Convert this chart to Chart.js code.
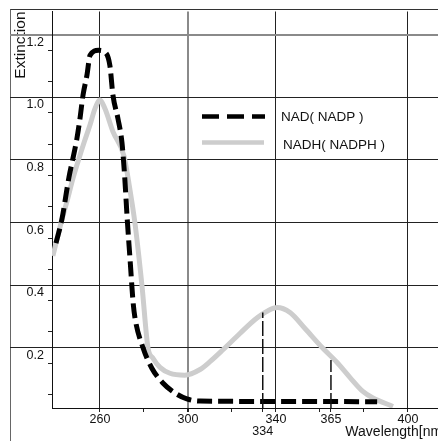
<!DOCTYPE html>
<html>
<head>
<meta charset="utf-8">
<script src="https://cdn.jsdelivr.net/npm/chart.js@4/dist/chart.umd.min.js"></script>
<style>
  html, body { margin: 0; padding: 0; background: #fff; overflow: hidden; }
  #wrap { position: relative; width: 438px; height: 441px; overflow: hidden; }
  #frame { position: absolute; left: 10px; top: 9px; width: 440px; height: 440px;
           border-left: 1px solid #666; border-top: 1px solid #333; }
  canvas { position: absolute; left: 0; top: 0; }
</style>
</head>
<body>
<div id="wrap">
  <div id="frame"></div>
  <canvas id="chart" width="446" height="441"></canvas>
</div>
<script>
// NAD(P), oxidised form
const nadWavelength = [240.0, 242.7, 245.9, 247.7, 249.5, 250.9, 252.3, 254.1, 255.5, 259.3,
  262.3, 264.5, 265.9, 268.2, 270.0, 271.2, 272.4, 273.7, 275.0, 275.9, 279.5, 283.6, 288.6,
  294.1, 299.5, 305.5, 340.0, 386.0]
const nadExtinction = [0.584, 0.660, 0.794, 0.854, 0.917, 0.981, 1.057, 1.121, 1.184, 1.200,
  1.194, 1.152, 1.057, 0.981, 0.905, 0.800, 0.660, 0.530, 0.400, 0.346, 0.251, 0.184, 0.137,
  0.105, 0.086, 0.079, 0.078, 0.077]

// NADH(P), reduced form
const nadhWavelength = [238.6, 242.3, 245.0, 247.7, 250.0, 253.0, 255.5, 257.7, 260.0, 262.3,
  265.9, 270.9, 273.5, 275.9, 279.1, 281.8, 284.1, 287.3, 291.8, 298.6, 305.5, 310.0, 315.9,
  323.6, 330.5, 336.4, 340.5, 346.4, 353.2, 360.9, 367.7, 373.6, 379.5, 384.1, 393.2]
const nadhExtinction = [0.543, 0.648, 0.717, 0.790, 0.844, 0.910, 0.962, 1.013, 1.041, 1.013,
  0.940, 0.863, 0.760, 0.648, 0.448, 0.251, 0.216, 0.187, 0.168, 0.162, 0.180, 0.205, 0.243,
  0.295, 0.340, 0.368, 0.378, 0.362, 0.311, 0.251, 0.203, 0.155, 0.110, 0.089, 0.062]

// dashed drop lines at the measuring wavelengths
const markerWavelength = [334, 365]
const markerTop = [0.362, 0.21]

// axes
const xMin = 238.2
const xMax = 417.3
const yMin = 0.057
const yMax = 1.324
const xTickValues = [260, 280, 300, 320, 334, 340, 360, 365, 380, 400]
const xTickLabels = { 260: '260', 300: '300', 334: ['', '334'], 340: '340', 365: '365', 400: '400' }
const yTickValues = [0.1, 0.15, 0.2, 0.25, 0.3, 0.35, 0.4, 0.45, 0.5, 0.55, 0.6, 0.65, 0.7,
  0.75, 0.8, 0.85, 0.9, 0.95, 1.0, 1.05, 1.1, 1.15, 1.2, 1.25]
const yTickLabels = ['0.2', '0.4', '0.6', '0.8', '1.0', '1.2']

// the printed table grid behind the chart
const tableCols = [260, 300, 340, 400]
const tableRows = [0.25, 0.45, 0.65, 0.85, 1.05, 1.25]

Chart.defaults.font.family = '"Liberation Sans", Arial, sans-serif'
Chart.defaults.color = '#111'

const toPoints = (xs, ys) => xs.map((x, i) => ({ x: x, y: ys[i] }))

const insideLegend = {
  id: 'insideLegend',
  afterDatasetsDraw(chart) {
    const { ctx, chartArea } = chart
    const left = chartArea.left + 150
    const top = chartArea.top + 105
    ctx.save()
    ctx.font = '13.5px "Liberation Sans", Arial, sans-serif'
    ctx.textBaseline = 'middle'
    ctx.fillStyle = '#111'
    chart.data.datasets.slice(0, 2).forEach((ds, i) => {
      const y = top + i * 26
      const dash = ds.borderDash || []
      const len = dash.length ? dash[0] * 3 + dash[1] * 2 : 62
      ctx.beginPath()
      ctx.setLineDash(dash.map(d => d + (i === 0 ? 2 : 0)))
      ctx.lineWidth = ds.borderWidth - 0.5
      ctx.strokeStyle = ds.borderColor
      ctx.moveTo(left, y)
      ctx.lineTo(left + (dash.length ? len + 6 : len), y)
      ctx.stroke()
      ctx.fillText(ds.label, left + 79 + i * 2, y + 1 + i * 2)
    })
    ctx.restore()
  }
}

const markerSets = markerWavelength.map((w, i) => ({
  label: 'marker ' + w,
  data: toPoints([w, w], [yMin, markerTop[i]]),
  borderColor: '#111',
  borderWidth: 1.5,
  borderDash: [15, 3],
  pointRadius: 0,
  order: 0,
}))

new Chart(document.getElementById('chart'), {
  type: 'line',
  data: {
    datasets: [
      {
        label: 'NAD( NADP )',
        data: toPoints(nadWavelength, nadExtinction),
        borderColor: '#000',
        borderWidth: 5,
        borderDash: [15, 6],
        pointRadius: 0,
        cubicInterpolationMode: 'monotone',
        order: 1,
      },
      {
        label: 'NADH( NADPH )',
        data: toPoints(nadhWavelength, nadhExtinction),
        borderColor: '#cdcdcd',
        borderWidth: 5,
        pointRadius: 0,
        cubicInterpolationMode: 'monotone',
        order: 2,
      },
      ...markerSets,
    ],
  },
  options: {
    responsive: false,
    animation: false,
    devicePixelRatio: 1,
    layout: { padding: { left: 10, top: 9, right: 0, bottom: 0 } },
    plugins: {
      legend: { display: false },
      tooltip: { enabled: false },
    },
    scales: {
      x: {
        type: 'linear',
        min: xMin,
        max: xMax,
        afterBuildTicks: (s) => { s.ticks = xTickValues.map(v => ({ value: v })) },
        afterFit: (s) => { s.height = 33 },
        ticks: {
          autoSkip: false,
          maxRotation: 0,
          padding: 1,
          font: { size: 12.5, lineHeight: 1.0 },
          callback: (v) => xTickLabels[v] || '',
        },
        grid: {
          color: (c) => tableCols.includes(c.tick.value)
            ? (c.tick.value === 300 ? '#8a8a8a' : '#222')
            : 'rgba(0,0,0,0)',
          lineWidth: (c) => (c.tick.value === 300 ? 2 : 1),
          tickColor: '#222',
          tickLength: 4,
        },
        border: { display: true, color: '#111', width: 1 },
        title: {
          display: true,
          text: 'Wavelength[nm]',
          align: 'end',
          font: { size: 14 },
          padding: { top: 0, bottom: 0 },
        },
      },
      y: {
        type: 'linear',
        position: 'left',
        min: yMin,
        max: yMax,
        afterBuildTicks: (s) => { s.ticks = yTickValues.map(v => ({ value: v })) },
        afterFit: (s) => { s.width = 42 },
        ticks: {
          padding: 4,
          labelOffset: -8,
          font: { size: 12.5 },
          callback: (v) => {
            const t = Number(v).toFixed(1)
            return Math.abs(v * 5 - Math.round(v * 5)) < 1e-6 && yTickLabels.includes(t) ? t : ''
          },
        },
        grid: {
          drawOnChartArea: false,
          drawTicks: true,
          tickLength: 4,
          color: '#222',
        },
        border: { display: true, color: '#111', width: 1 },
        title: {
          display: true,
          text: 'Extinction',
          align: 'end',
          font: { size: 15.5 },
          padding: { top: 1, bottom: 0 },
        },
      },
      yg: {
        type: 'linear',
        position: 'left',
        weight: -1,
        min: yMin,
        max: yMax,
        afterBuildTicks: (s) => { s.ticks = tableRows.map(v => ({ value: v })) },
        afterFit: (s) => { s.width = 0 },
        ticks: { display: false },
        grid: {
          drawOnChartArea: true,
          drawTicks: true,
          tickLength: 42,
          color: (c) => (c.tick.value === 1.25 ? '#8a8a8a' : '#222'),
          lineWidth: (c) => (c.tick.value === 1.25 ? 2 : 1),
        },
        border: { display: false },
      },
    },
  },
  plugins: [insideLegend],
})
</script>
</body>
</html>
